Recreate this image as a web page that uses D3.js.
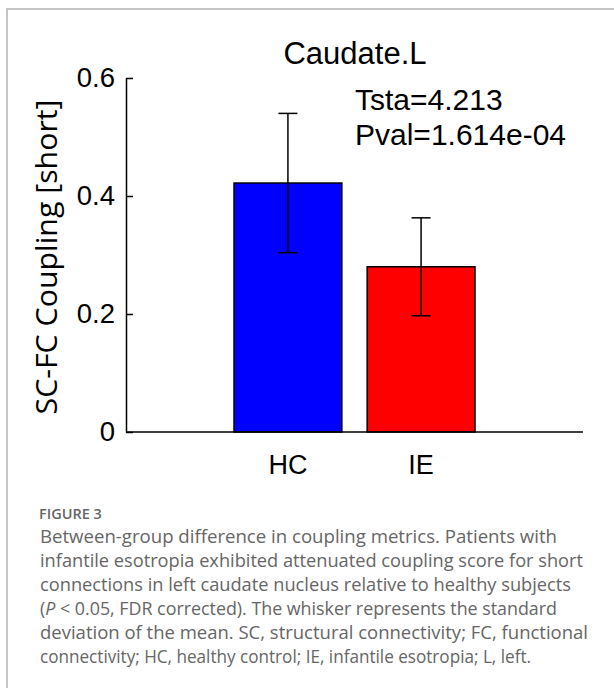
<!DOCTYPE html>
<html>
<head>
<meta charset="utf-8">
<script src="https://cdn.jsdelivr.net/npm/d3@7"></script>
<style>
  html, body { margin: 0; padding: 0; background: #fff; }
  svg { display: block; }
</style>
</head>
<body>
<script>
// ---- data ----
const categories = ["HC", "IE"];
const means = [0.422, 0.280];
const sds = [0.118, 0.083];
const barColors = ["#0000ff", "#ff0000"];
const yTicks = [0, 0.2, 0.4, 0.6];
const yTickLabels = ["0", "0.2", "0.4", "0.6"];
const chartTitle = "Caudate.L";
const statLines = ["Tsta=4.213", "Pval=1.614e-04"];
const yLabel = "SC-FC Coupling [short]";
const figLabel = "FIGURE 3";
const captionLines = [
  "Between-group difference in coupling metrics. Patients with",
  "infantile esotropia exhibited attenuated coupling score for short",
  "connections in left caudate nucleus relative to healthy subjects",
  "(<i>P</i> < 0.05, FDR corrected). The whisker represents the standard",
  "deviation of the mean. SC, structural connectivity; FC, functional",
  "connectivity; HC, healthy control; IE, infantile esotropia; L, left."
];
const captionWidths = [517, 543, 531, 517, 548, 491];

const W = 614, H = 688;
const svg = d3.select("body").append("svg").attr("width", W).attr("height", H);

// frame
svg.append("path")
  .attr("d", `M7,${H} L7,9 L${W},9`)
  .attr("fill", "none").attr("stroke", "#b3b3b3").attr("stroke-width", 1.5);

const axisX0 = 126, axisX1 = 583, axisY0 = 432;
const y = d3.scaleLinear().domain([0, 0.6]).range([axisY0, 78]);
const x = d3.scaleBand().domain(categories).range([234, 475]).paddingInner(0.19);

const chartFont = "'Liberation Sans', Arial, sans-serif";

// bars
svg.append("g").selectAll("rect").data(categories).join("rect")
  .attr("x", d => x(d))
  .attr("y", (d, i) => y(means[i]))
  .attr("width", x.bandwidth())
  .attr("height", (d, i) => y(0) - y(means[i]))
  .attr("fill", (d, i) => barColors[i])
  .attr("stroke", "#000").attr("stroke-width", 1.5);

// error bars
const eg = svg.append("g").attr("stroke", "#000").attr("stroke-width", 1.5);
categories.forEach((c, i) => {
  const cx = x(c) + x.bandwidth() / 2;
  const lo = y(means[i] - sds[i]), hi = y(means[i] + sds[i]);
  eg.append("line").attr("x1", cx).attr("x2", cx).attr("y1", lo).attr("y2", hi);
  eg.append("line").attr("x1", cx - 9.5).attr("x2", cx + 9.5).attr("y1", lo).attr("y2", lo);
  eg.append("line").attr("x1", cx - 9.5).attr("x2", cx + 9.5).attr("y1", hi).attr("y2", hi);
});

// y axis
const yAxis = d3.axisLeft(y).tickValues(yTicks)
  .tickFormat((d, i) => yTickLabels[i])
  .tickSizeInner(-7).tickSizeOuter(0).tickPadding(11);
const yg = svg.append("g").attr("transform", `translate(${axisX0},0)`).call(yAxis);
yg.select(".domain").attr("stroke", "#000").attr("stroke-width", 1.5);
yg.selectAll(".tick line").attr("stroke", "#000").attr("stroke-width", 1.5);
yg.selectAll(".tick text").attr("font-family", chartFont).attr("font-size", 27.5).attr("fill", "#000");

// x axis line
svg.append("line").attr("x1", axisX0).attr("x2", axisX1).attr("y1", axisY0).attr("y2", axisY0)
  .attr("stroke", "#000").attr("stroke-width", 1.5);
const xAxis = d3.axisBottom(x).tickSize(0).tickPadding(23);
const xg = svg.append("g").attr("transform", `translate(0,${axisY0})`).call(xAxis);
xg.select(".domain").remove();
xg.selectAll(".tick text").attr("font-family", chartFont).attr("font-size", 27).attr("fill", "#000");

// title & stats
svg.append("text").attr("x", 355).attr("y", 64).attr("text-anchor", "middle")
  .attr("font-family", chartFont).attr("font-size", 31).text(chartTitle);
statLines.forEach((t, i) => {
  svg.append("text").attr("x", 355).attr("y", 110 + i * 35)
    .attr("font-family", chartFont).attr("font-size", 30).text(t);
});

// y label
svg.append("text")
  .attr("transform", `translate(57,257) rotate(-90)`)
  .attr("text-anchor", "middle")
  .attr("font-family", "'Open Sans', sans-serif").attr("font-size", 29)
  .attr("textLength", 315).attr("lengthAdjust", "spacingAndGlyphs")
  .text(yLabel);

// caption
svg.append("text").attr("x", 39).attr("y", 519)
  .attr("font-family", "'Open Sans', sans-serif").attr("font-size", 14.5).attr("font-weight", 600)
  .attr("fill", "#666").text(figLabel);
captionLines.forEach((t, i) => {
  svg.append("text").attr("x", 40).attr("y", 543 + i * 24)
    .attr("font-family", "'Open Sans', sans-serif").attr("font-size", 18)
    .attr("textLength", captionWidths[i]).attr("lengthAdjust", "spacingAndGlyphs")
    .attr("fill", "#666").html(t.replace("<i>P</i>", "<tspan font-style='italic'>P</tspan>").replace(" < ", " &lt; "));
});
</script>
</body>
</html>
